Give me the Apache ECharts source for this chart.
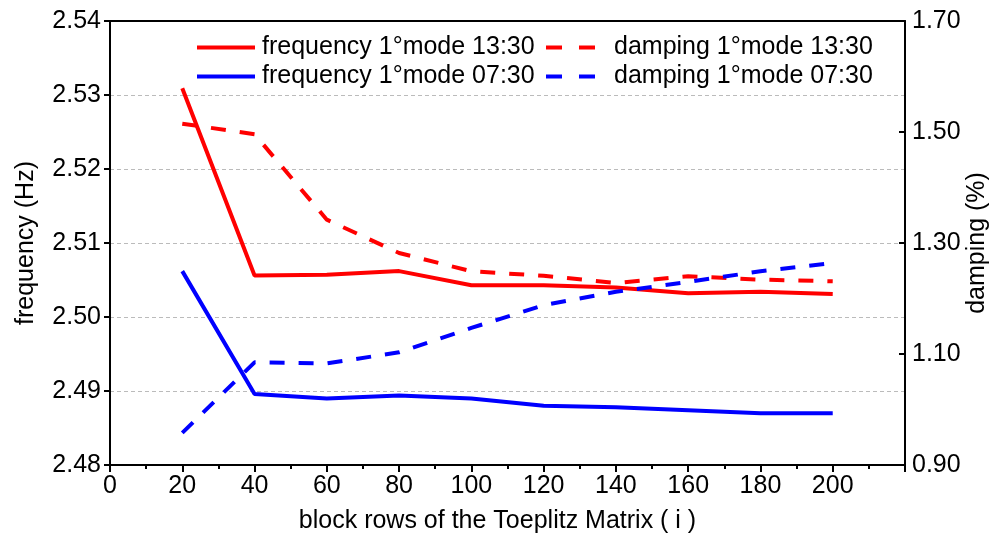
<!DOCTYPE html>
<html>
<head>
<meta charset="utf-8">
<script src="https://cdn.jsdelivr.net/npm/echarts@6/dist/echarts.min.js"></script>
<style>html,body{margin:0;padding:0;background:#fff;overflow:hidden;}#c{width:992px;height:540px;}</style>
</head>
<body>
<div id="c"></div>
<script>
const blockRows = [20, 40, 60, 80, 100, 120, 140, 160, 180, 200];
const freq1330 = [2.5309, 2.5056, 2.5057, 2.5062, 2.5043, 2.5043, 2.5040, 2.5032, 2.5034, 2.5031];
const damp1330 = [1.515, 1.496, 1.342, 1.282, 1.249, 1.241, 1.228, 1.240, 1.234, 1.231];
const freq0730 = [2.5062, 2.4896, 2.4890, 2.4894, 2.4890, 2.4880, 2.4878, 2.4874, 2.4870, 2.4870];
const damp0730 = [0.958, 1.085, 1.083, 1.103, 1.147, 1.188, 1.212, 1.230, 1.249, 1.264];
const names = ['frequency 1°mode 13:30', 'damping 1°mode 13:30', 'frequency 1°mode 07:30', 'damping 1°mode 07:30'];

const FONT = 'Liberation Sans, Arial, sans-serif';
const FS = 25;
const pairs = (ys) => blockRows.map((x, i) => [x, ys[i]]);
const DASH = [15, 14];
const SOLID_ICON = 'path://M0,0h58v4h-58z';
const DASH_ICON = 'path://M0,0h16v4h-16z M33,0h16v4h-16z';

const chart = echarts.init(document.getElementById('c'), null, {renderer: 'canvas'});
chart.setOption({
  backgroundColor: '#fff',
  animation: false,
  textStyle: {fontFamily: FONT},
  grid: {left: 110, right: 87, top: 21, bottom: 75, containLabel: false, outerBoundsMode: 'none'},
  legend: [
    {
      data: [{name: names[0], icon: SOLID_ICON}, {name: names[2], icon: SOLID_ICON}],
      orient: 'vertical', left: 192, top: 30,
      itemWidth: 58, itemHeight: 4, itemGap: 4, symbolKeepAspect: false,
      textStyle: {fontFamily: FONT, fontSize: FS, color: '#000', padding: [0, 0, 0, 2]}
    },
    {
      data: [{name: names[1], icon: DASH_ICON}, {name: names[3], icon: DASH_ICON}],
      orient: 'vertical', left: 541, top: 30,
      itemWidth: 49, itemHeight: 4, itemGap: 4, symbolKeepAspect: false,
      textStyle: {fontFamily: FONT, fontSize: FS, color: '#000', padding: [0, 0, 0, 14]}
    }
  ],
  xAxis: [
    {
      type: 'value', min: 0, max: 220, interval: 20,
      name: 'block rows of the Toeplitz Matrix ( i )', nameLocation: 'middle', nameGap: 44,
      nameTextStyle: {fontFamily: FONT, fontSize: FS, color: '#000', padding: [0, 20, 0, 0]},
      axisLine: {show: true, onZero: false, lineStyle: {color: '#000', width: 2}},
      axisTick: {show: true, inside: false, length: 7, lineStyle: {color: '#000', width: 2}},
      minorTick: {show: true, splitNumber: 2, length: 4, lineStyle: {color: '#000', width: 2}},
      axisLabel: {fontFamily: FONT, fontSize: FS, color: '#000', margin: 9, showMaxLabel: false,
        formatter: (v) => (v > 200 ? '' : String(v))},
      splitLine: {show: false}
    },
    {
      type: 'value', min: 0, max: 220, position: 'top',
      axisLine: {show: true, onZero: false, lineStyle: {color: '#000', width: 2}},
      axisTick: {show: false}, axisLabel: {show: false}, splitLine: {show: false}
    }
  ],
  yAxis: [
    {
      type: 'value', min: 2.48, max: 2.54, interval: 0.01, position: 'left',
      name: 'frequency (Hz)', nameLocation: 'middle', nameGap: 71, nameRotate: 90, nameMoveOverlap: false,
      nameTextStyle: {fontFamily: FONT, fontSize: FS, color: '#000'},
      axisLine: {show: true, onZero: false, lineStyle: {color: '#000', width: 2}},
      axisTick: {show: true, inside: false, length: 6, lineStyle: {color: '#000', width: 2}},
      axisLabel: {fontFamily: FONT, fontSize: FS, color: '#000', margin: 9, formatter: (v) => v.toFixed(2)},
      splitLine: {show: true, lineStyle: {color: '#bbbbbb', type: [4, 3], width: 1}}
    },
    {
      type: 'value', min: 0.9, max: 1.7, interval: 0.2, position: 'right',
      name: 'damping (%)', nameLocation: 'middle', nameGap: 60, nameRotate: 90, nameMoveOverlap: false,
      nameTextStyle: {fontFamily: FONT, fontSize: FS, color: '#000'},
      axisLine: {show: true, onZero: false, lineStyle: {color: '#000', width: 2}},
      axisTick: {show: true, inside: true, length: 6, lineStyle: {color: '#000', width: 2}},
      axisLabel: {fontFamily: FONT, fontSize: FS, color: '#000', margin: 7, formatter: (v) => v.toFixed(2)},
      splitLine: {show: false}
    }
  ],
  series: [
    {name: names[0], type: 'line', xAxisIndex: 0, yAxisIndex: 0, data: pairs(freq1330), showSymbol: false, symbol: 'none',
      itemStyle: {color: '#ff0000'}, lineStyle: {color: '#ff0000', width: 4}},
    {name: names[1], type: 'line', xAxisIndex: 0, yAxisIndex: 1, data: pairs(damp1330), showSymbol: false, symbol: 'none',
      itemStyle: {color: '#ff0000'}, lineStyle: {color: '#ff0000', width: 4, type: DASH}},
    {name: names[2], type: 'line', xAxisIndex: 0, yAxisIndex: 0, data: pairs(freq0730), showSymbol: false, symbol: 'none',
      itemStyle: {color: '#0000ff'}, lineStyle: {color: '#0000ff', width: 4}},
    {name: names[3], type: 'line', xAxisIndex: 0, yAxisIndex: 1, data: pairs(damp0730), showSymbol: false, symbol: 'none',
      itemStyle: {color: '#0000ff'}, lineStyle: {color: '#0000ff', width: 4, type: DASH}}
  ]
});
</script>
</body>
</html>
